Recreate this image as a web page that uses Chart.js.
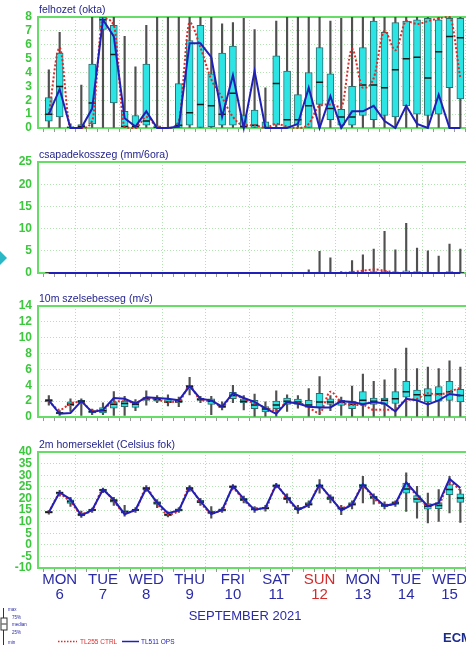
<!DOCTYPE html>
<html>
<head>
<meta charset="utf-8">
<script src="https://cdn.jsdelivr.net/npm/chart.js@4.4.1/dist/chart.umd.min.js"></script>
<style>
html, body { margin: 0; padding: 0; background: #fff; overflow: hidden; width: 466px; height: 645px; }
canvas { position: absolute; left: 0; }
#marker { position: absolute; left: 0; top: 251px; width: 0; height: 0;
  border-top: 7px solid transparent; border-bottom: 7px solid transparent; border-left: 7px solid #2bb8c6; }
</style>
</head>
<body>
<canvas id="cloudChart" width="520" height="140" style="top:0px"></canvas>
<canvas id="rainChart" width="520" height="140" style="top:145px"></canvas>
<canvas id="windChart" width="520" height="140" style="top:289px"></canvas>
<canvas id="tempChart" width="520" height="210" style="top:435px"></canvas>
<div id="marker"></div>
<script>
// 6 hourly steps counted from Mon 6 Sep 2021 00 UTC
const steps = [1,2,3,4,5,6,7,8,9,10,11,12,13,14,15,16,17,18,19,20,21,22,23,24,25,26,27,28,29,30,31,32,33,34,35,36,37,38,39];
const dayNames = ['MON','TUE','WED','THU','FRI','SAT','SUN','MON','TUE','WED','THU'];
const dayNums = ['6','7','8','9','10','11','12','13','14','15','16'];

// felhozet (okta)
const cloudMin = [0,0,0,0,0,0,0,0,0,0, 0,0,0,0,0,0,0,0,0,0, 0,0,0,0,0,0,0,0,0,0, 0,0,0,0,0,0,0,0,0];
const cloudQ1 = [0.5,0.8,0,0,0.3,7.1,1.8,0.1,0,0.2, 0,0,0,0.2,0,0.1,0.2,0.2,0,0, 0,0.2,0,0.2,0,1.7,0.6,0.2,0.2,0.9, 0.6,0.9,0.8,1.6,1.0,0.9,1.0,2.9,2.1];
const cloudMed = [1.0,3.0,0,0.1,1.8,7.8,5.3,0.1,0.1,0.5, 0,0,0.2,1.1,1.7,1.6,1.0,2.5,0.1,0.2, 0,3.2,0.6,0.6,1.6,3.3,1.4,0.8,0.8,3.1, 3.1,2.9,4.2,5.0,5.1,3.6,5.5,6.6,6.5];
const cloudQ3 = [2.2,5.4,0.1,0.25,4.6,8.0,7.4,1.2,0.9,4.6, 0.15,0.05,3.2,6.3,7.4,3.9,5.4,5.9,0.9,1.3, 0.45,5.2,4.1,2.4,4.0,5.8,3.9,1.35,3.0,5.8, 7.7,6.9,7.6,7.7,7.8,7.9,7.8,7.9,7.9];
const cloudMax = [4.2,6.9,0.3,3.1,8,8,8,6.6,4.4,7.4, 8,8,8,8,8,8,7.5,7.6,7.9,7.1, 2.9,7.7,8,8,8,8,7.7,7.9,8,8, 8,8,8,8,8,8,8,8,8];
const cloudCtrl = [1.0,5.8,0,0,0.5,7.9,7.4,0.1,0,0.8, 0.1,0,0.5,7.6,5.8,3.5,2.2,0.8,0.2,0.2, 0,0.3,0.1,0,0.3,1.6,1.7,1.5,5.7,2.9, 3.6,7.0,5.6,7.7,7.5,7.7,7.9,8.0,3.6];
const cloudOps = [1.0,2.8,0,0,1.4,7.8,6.6,0.7,0.1,1.2, 0,0,0.1,6.1,6.1,5.1,0.8,3.8,0,4.1, 0,0,0,0.3,2.9,0,2.3,0,1.2,1.2, 1.6,0.5,0,1.6,0.3,0,2.4,0,0];

// csapadekosszeg (mm/6ora)
const rainMin = [0,0,0,0,0,0,0,0,0,0, 0,0,0,0,0,0,0,0,0,0, 0,0,0,0,0,0,0,0,0,0, 0,0,0,0,0,0,0,0,0];
const rainQ1 = [0,0,0,0,0,0,0,0,0,0, 0,0,0,0,0,0,0,0,0,0, 0,0,0,0,0,0,0,0,0,0, 0,0,0,0,0,0,0,0,0];
const rainMed = [0,0,0,0,0,0,0,0,0,0, 0,0,0,0,0,0,0,0,0,0, 0,0,0,0,0,0,0,0,0,0, 0,0,0,0,0,0,0,0,0];
const rainQ3 = [0,0,0,0,0,0,0,0,0,0, 0,0,0,0,0,0,0,0,0,0, 0,0,0,0,0,0.2,0.1,0,0.1,0.2, 0.3,0.4,0.2,0.5,0.3,0.2,0.1,0.3,0.2];
const rainMax = [0,0,0,0,0,0,0,0,0,0, 0,0,0,0,0,0,0,0,0,0, 0,0,0,0,0.7,4.9,3.4,0.3,2.8,4.1, 5.4,9.4,5.2,11.2,5.6,5.0,3.8,6.5,5.4];
const rainCtrl = [0,0,0,0,0,0,0,0,0,0, 0,0,0,0,0,0,0,0,0,0, 0,0,0,0,0,0,0,0,0.2,0.5, 0.8,0.5,0.1,0,0,0,0,0,0];
const rainOps = [0,0,0,0,0,0,0,0,0,0, 0,0,0,0,0,0,0,0,0,0, 0,0,0,0,0,0,0,0,0,0, 0,0,0,0,0,0,0,0,0];

// 10m szelsebesseg (m/s)
const windMin = [1.5,0.2,0.7,0.2,0.3,0.3,0.2,0.2,0.8,1.5, 1.8,1.4,1.3,2.8,1.8,0.3,0.9,1.8,0.9,0.1, 0.1,0.1,0.7,1.1,0.1,0.3,0.8,0.2,0.1,0.1, 0.1,0.1,0.1,0.1,0.1,0.1,0.1,0.1,0.1];
const windQ1 = [1.9,0.4,1.4,1.8,0.5,0.5,1.1,1.3,1.2,2.1, 2.0,1.8,1.8,3.5,2.1,1.6,1.2,2.3,1.8,1.05, 0.65,1.05,1.6,1.6,1.2,1.2,1.6,1.45,1.05,1.6, 1.6,1.6,1.7,2.5,2.1,1.9,2.0,2.1,1.9];
const windMed = [2.1,0.5,1.6,2.0,0.7,0.8,1.6,1.7,1.6,2.3, 2.2,1.9,2.0,3.8,2.2,2.0,1.3,2.7,2.0,1.5, 1.0,1.5,2.0,1.9,1.5,1.9,1.9,1.85,1.6,2.1, 2.0,2.1,2.3,3.2,2.8,2.7,2.9,3.2,2.7];
const windQ3 = [2.2,0.6,1.9,2.1,0.8,1.2,1.9,2.0,1.9,2.5, 2.4,2.2,2.2,4.0,2.4,2.3,1.5,3.1,2.3,2.1, 1.3,2.0,2.4,2.25,2.1,3.0,2.3,2.1,2.0,3.2, 2.4,2.4,3.2,4.5,3.4,3.6,3.85,4.5,3.5];
const windMax = [2.7,0.8,2.3,2.3,1.0,1.8,3.2,2.6,2.2,3.3, 2.7,2.8,2.5,5.0,2.6,2.6,1.9,4.0,2.7,2.9, 1.9,3.3,2.8,2.7,3.6,5.1,2.7,2.5,3.9,5.4, 4.5,4.7,6.1,8.7,6.1,6.3,6.1,7.1,6.3];
const windCtrl = [2.0,0.9,1.7,1.9,0.8,1.0,1.9,2.0,1.8,2.4, 2.2,1.9,2.0,3.8,2.2,2.0,1.3,2.8,2.3,1.7, 1.2,0.8,1.8,1.8,1.2,0.5,3.2,1.9,1.5,1.5, 0.9,0.9,1.1,2.1,2.3,3.0,2.8,3.2,3.7];
const windOps = [2.1,0.4,0.5,2.0,0.6,0.9,2.4,2.3,1.7,2.5, 2.4,2.3,2.1,3.9,2.3,2.1,1.3,3.0,2.4,1.9, 1.1,0.4,1.9,1.7,1.3,1.2,1.2,2.0,1.9,1.6, 1.9,1.7,0.7,2.3,2.1,1.6,2.1,2.9,2.7];

// 2m homerseklet (Celsius fok)
const tempMin = [13.2,21.0,16.5,11.8,14.0,22.5,17.0,12.3,14.0,23.0, 16.0,12.0,14.0,23.0,17.0,11.5,14.0,24.0,18.0,14.0, 14.5,24.5,18.0,13.5,16.0,22.3,18.0,13.0,15.5,18.0, 17.5,15.5,16.5,14.4,11.5,9.4,10.1,13.7,9.7];
const tempQ1 = [13.6,21.8,17.8,12.4,14.6,23.2,18.4,13.6,14.6,23.8, 17.4,12.4,14.5,23.8,18.0,13.3,14.5,24.5,19.0,14.9, 15.4,25.0,19.4,15.0,17.0,25.0,19.5,15.3,17.0,24.6, 19.8,16.4,17.4,22.3,18.3,15.4,15.6,21.6,18.3];
const tempMed = [14.0,22.4,18.7,13.0,15.0,23.6,19.0,14.2,15.0,24.3, 18.0,13.0,15.0,24.3,18.5,14.0,15.0,25.0,19.5,15.4, 15.8,25.5,20.0,15.5,17.5,25.5,20.2,15.8,17.5,25.5, 20.5,17.0,18.0,24.1,19.7,16.6,16.9,23.8,20.2];
const tempQ3 = [14.4,22.8,19.4,13.6,15.4,24.0,19.6,14.8,15.4,24.8, 18.6,13.5,15.5,24.8,19.2,14.5,15.5,25.5,20.0,16.0, 16.3,26.0,20.6,16.0,18.2,26.0,20.8,16.3,18.2,26.2, 21.0,17.5,18.6,26.6,21.2,17.8,18.2,26.0,22.0];
const tempMax = [14.8,23.5,20.5,14.5,15.8,24.5,20.5,17.0,16.0,25.5, 19.5,14.2,16.0,25.5,20.0,16.5,16.0,26.0,21.0,16.5, 17.0,26.5,22.0,17.0,19.0,28.1,21.5,17.0,19.0,29.5, 22.0,18.5,19.0,31.0,25.2,22.3,23.8,29.5,23.8];
const tempCtrl = [14.0,21.5,18.5,13.5,15.0,23.5,18.8,14.0,15.0,24.0, 17.8,13.2,15.0,24.3,18.3,14.0,15.0,24.0,19.2,15.6, 15.9,25.3,19.8,15.8,17.5,25.0,20.3,16.0,17.8,25.0, 20.0,17.2,18.0,25.5,21.0,17.0,17.5,27.0,23.5];
const tempOps = [14.0,22.6,19.6,12.6,15.0,23.8,19.4,13.2,15.0,24.4, 18.2,13.6,14.8,24.7,18.8,13.2,15.0,25.3,19.8,15.0, 16.0,25.9,20.4,15.0,17.2,26.0,20.4,14.8,17.3,26.1, 20.8,16.8,17.7,26.9,21.6,16.6,18.0,28.4,24.5];

const FONT = "'Liberation Sans', Arial, sans-serif";
const gridGreen = '#b2e2b2';
const gridSteps = Array.from({length: 45}, (_, k) => k);

Chart.defaults.font.family = FONT;

function pairs(lo, hi) {
    return steps.map((s, k) => ({x: s, y: [lo[k], hi[k]]}));
}
function points(vals) {
    return steps.map((s, k) => ({x: s, y: vals[k]}));
}

function boxDatasets(mn, q1, med, q3, mx, ctrl, ops) {
    return [
        {type: 'line', data: points(ops), borderColor: '#2020b8', borderWidth: 2, pointRadius: 0, clip: false},
        {type: 'line', data: points(ctrl), borderColor: '#e02a2a', borderWidth: 2, borderDash: [2, 2],
            pointRadius: 0, cubicInterpolationMode: 'monotone', clip: false},
        {type: 'line', data: points(med), showLine: false, pointStyle: 'line', pointRadius: 3.5,
            pointBorderWidth: 1.5, pointBorderColor: '#1a1a1a'},
        {type: 'bar', data: pairs(q1, q3), backgroundColor: '#2ce4e4', borderColor: '#2d6a6a',
            borderWidth: 1, borderSkipped: false, barThickness: 7, grouped: false},
        {type: 'bar', data: pairs(mn, mx), backgroundColor: '#505050', barThickness: 1.5, grouped: false}
    ];
}

const panelPlugin = {
    id: 'panel',
    beforeDatasetsDraw(chart) {
        const {ctx, chartArea: a} = chart;
        ctx.save();
        ctx.strokeStyle = '#66dd66';
        ctx.lineWidth = 2;
        ctx.strokeRect(a.left, a.top, a.width, a.height);
        ctx.restore();
    },
    afterDraw(chart, args, opts) {
        const {ctx, chartArea: a} = chart;
        ctx.save();
        ctx.fillStyle = '#24248f';
        ctx.font = '10.5px ' + FONT;
        ctx.fillText(opts.title, a.left + 1, a.top - 4);
        if (opts.footer) {
            const b = a.bottom;
            ctx.fillStyle = '#2b2ba6';
            ctx.font = '13px ' + FONT;
            ctx.textAlign = 'center';
            ctx.fillText(opts.footer, 245, b + 52);
            // box plot key
            ctx.strokeStyle = '#333';
            ctx.lineWidth = 1;
            ctx.beginPath();
            ctx.moveTo(3.5, b + 40);
            ctx.lineTo(3.5, b + 77);
            ctx.stroke();
            ctx.fillStyle = '#fff';
            ctx.fillRect(1, b + 50, 6, 12);
            ctx.strokeRect(1, b + 50, 6, 12);
            ctx.beginPath();
            ctx.moveTo(1.5, b + 56);
            ctx.lineTo(6.5, b + 56);
            ctx.stroke();
            ctx.textAlign = 'left';
            ctx.fillStyle = '#2b2ba6';
            ctx.font = '4.5px ' + FONT;
            ctx.fillText('max', 8, b + 43);
            ctx.fillText('75%', 12, b + 51);
            ctx.fillText('median', 12, b + 58);
            ctx.fillText('25%', 12, b + 66);
            ctx.fillText('min', 8, b + 76);
            // runs
            ctx.lineWidth = 1.5;
            ctx.strokeStyle = '#e02a2a';
            ctx.setLineDash([1.5, 1.5]);
            ctx.beginPath();
            ctx.moveTo(58, b + 73.5);
            ctx.lineTo(77, b + 73.5);
            ctx.stroke();
            ctx.setLineDash([]);
            ctx.strokeStyle = '#2020b8';
            ctx.beginPath();
            ctx.moveTo(122, b + 73.5);
            ctx.lineTo(139, b + 73.5);
            ctx.stroke();
            ctx.font = '6.5px ' + FONT;
            ctx.fillStyle = '#e02a2a';
            ctx.fillText('TL255 CTRL', 80, b + 75.5);
            ctx.fillStyle = '#2020b8';
            ctx.fillText('TL511 OPS', 141, b + 75.5);
            ctx.fillStyle = '#1b2b8c';
            ctx.font = 'bold 13px ' + FONT;
            ctx.fillText('ECMWF', 443, b + 74);
        }
        ctx.restore();
    }
};

function makePanel(id, title, yMin, yMax, yStep, datasets, footer) {
    const last = !!footer;
    return new Chart(document.getElementById(id), {
        type: 'line',
        data: {datasets: datasets},
        options: {
            responsive: false,
            animation: false,
            layout: {padding: {top: 17, bottom: last ? 33 : 1, left: 0, right: 0}},
            plugins: {
                legend: {display: false},
                tooltip: {enabled: false},
                panel: {title: title, footer: footer}
            },
            scales: {
                x: {
                    type: 'linear',
                    min: 0,
                    max: 44,
                    offset: false,
                    afterBuildTicks: (s) => { s.ticks = gridSteps.map(v => ({value: v})); },
                    afterFit: (s) => { s.height = last ? 44 : 6; },
                    grid: {
                        color: (c) => (c.tick && c.tick.value % 4 === 0) ? gridGreen : 'rgba(0,0,0,0)',
                        tickColor: '#999',
                        tickLength: 4
                    },
                    border: {display: false, dash: [1, 2]},
                    ticks: last ? {
                        autoSkip: false,
                        maxRotation: 0,
                        padding: 0,
                        font: {size: 15, lineHeight: 1.0},
                        color: (c) => (c.tick && dayNames[(c.tick.value - 2) / 4] === 'SUN') ? '#d42a2a' : '#2b2ba6',
                        callback: (v) => v % 4 === 2 ? [dayNames[(v - 2) / 4], dayNums[(v - 2) / 4]] : ''
                    } : {display: false}
                },
                y: {
                    min: yMin,
                    max: yMax,
                    afterFit: (s) => { s.width = 38; },
                    ticks: {stepSize: yStep, autoSkip: false, color: '#3cc83c', padding: 6,
                        font: {size: 12, weight: 'bold', lineHeight: 1.0}},
                    grid: {color: gridGreen, drawTicks: false},
                    border: {display: false, dash: [1, 2]}
                }
            }
        },
        plugins: [panelPlugin]
    });
}

makePanel('cloudChart', 'felhozet (okta)', 0, 8, 1,
    boxDatasets(cloudMin, cloudQ1, cloudMed, cloudQ3, cloudMax, cloudCtrl, cloudOps));
makePanel('rainChart', 'csapadekosszeg (mm/6ora)', 0, 25, 5,
    boxDatasets(rainMin, rainQ1, rainMed, rainQ3, rainMax, rainCtrl, rainOps));
makePanel('windChart', '10m szelsebesseg (m/s)', 0, 14, 2,
    boxDatasets(windMin, windQ1, windMed, windQ3, windMax, windCtrl, windOps));
makePanel('tempChart', '2m homerseklet (Celsius fok)', -10, 40, 5,
    boxDatasets(tempMin, tempQ1, tempMed, tempQ3, tempMax, tempCtrl, tempOps), 'SEPTEMBER 2021');
</script>
</body>
</html>
